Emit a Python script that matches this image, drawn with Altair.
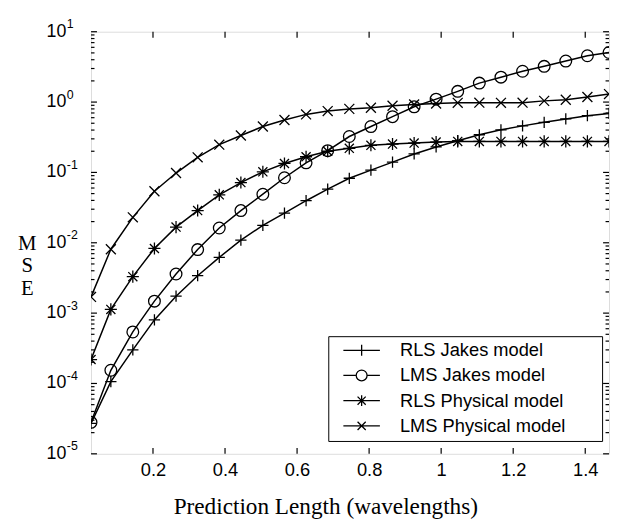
import altair as alt
import pandas as pd

# ---------------- data ----------------
x_vals = [0.028, 0.083, 0.144, 0.204, 0.264, 0.324, 0.384, 0.444, 0.505, 0.565,
          0.625, 0.685, 0.745, 0.805, 0.865, 0.925, 0.986, 1.046, 1.106, 1.166,
          1.226, 1.286, 1.346, 1.406, 1.466]
rls_jakes = [2.7e-5, 1.06e-4, 3.0e-4, 8.0e-4, 1.74e-3, 3.4e-3, 6.2e-3, 0.0109, 0.0177, 0.0263,
             0.0396, 0.058, 0.0826, 0.108, 0.14, 0.183, 0.23, 0.282, 0.343, 0.403,
             0.459, 0.515, 0.575, 0.64, 0.69]
lms_jakes = [2.8e-5, 1.54e-4, 5.4e-4, 1.48e-3, 3.6e-3, 8.0e-3, 0.0162, 0.0287, 0.049, 0.084,
             0.137, 0.204, 0.324, 0.449, 0.62, 0.857, 1.10, 1.42, 1.86, 2.26,
             2.74, 3.22, 3.83, 4.56, 5.07]
rls_phys = [2.19e-4, 1.13e-3, 3.3e-3, 8.3e-3, 0.0167, 0.0287, 0.048, 0.0718, 0.102, 0.134,
            0.167, 0.2, 0.22, 0.243, 0.253, 0.261, 0.27, 0.276, 0.276, 0.276,
            0.276, 0.276, 0.276, 0.276, 0.276]
lms_phys = [1.7e-3, 8.1e-3, 0.023, 0.054, 0.098, 0.164, 0.248, 0.335, 0.449, 0.557,
            0.668, 0.745, 0.80, 0.83, 0.886, 0.923, 0.953, 0.975, 0.98, 0.975,
            0.98, 1.04, 1.08, 1.18, 1.3]

series_names = ["RLS Jakes model", "LMS Jakes model", "RLS Physical model", "LMS Physical model"]
x_ticks = [0.2, 0.4, 0.6, 0.8, 1.0, 1.2, 1.4]
y_major = [1e1, 1e0, 1e-1, 1e-2, 1e-3, 1e-4, 1e-5]
y_exps = ["1", "0", "-1", "-2", "-3", "-4", "-5"]
minor_mult = [2, 3, 4, 5, 6, 7, 8, 9]
decades = [1e-5, 1e-4, 1e-3, 1e-2, 1e-1, 1e0]

# ---------------- tables ----------------
rows = []
for name, vals in zip(series_names, [rls_jakes, lms_jakes, rls_phys, lms_phys]):
    for xv, yv in zip(x_vals, vals):
        rows.append({"series": name, "x": xv, "mse": yv})
df = pd.DataFrame(rows)
df_xt = pd.DataFrame({"x": x_ticks})
df_ymaj = pd.DataFrame({"mse": y_major})
df_ymin = pd.DataFrame({"mse": [m * d for d in decades for m in minor_mult]})
df_ylab = pd.DataFrame({"mse": y_major, "base": ["10"] * len(y_major), "exp": y_exps})

# ---------------- styling ----------------
W, H = 524, 427
SANS = "Liberation Sans"
SERIF = "Liberation Serif"
xs = alt.Scale(domain=[0.028, 1.466], nice=False, zero=False)
ys = alt.Scale(type="log", domain=[1e-5, 10], nice=False)

plus_p = "M-1,0H1M0,-1V1"
circ_p = "M-1,0A1,1,0,1,0,1,0A1,1,0,1,0,-1,0"
ast_p = "M-1,0H1M0,-1V1M-0.75,-0.75L0.75,0.75M-0.75,0.75L0.75,-0.75"
x_p = "M-0.75,-0.75L0.75,0.75M-0.75,0.75L0.75,-0.75"
marker_paths = [plus_p, circ_p, ast_p, x_p]
marker_sizes = [130, 140, 150, 180]

L = 3.36
legend_paths = [
    f"M-{L},0H{L}M0,-1V1",
    f"M-{L},0H-1M1,0H{L}M-1,0A1,1,0,1,0,1,0A1,1,0,1,0,-1,0",
    f"M-{L},0H{L}M0,-1V1M-0.75,-0.75L0.75,0.75M-0.75,0.75L0.75,-0.75",
    f"M-{L},0H{L}M-0.75,-0.75L0.75,0.75M-0.75,0.75L0.75,-0.75",
]

x_axis = alt.Axis(values=x_ticks, format="~g", tickSize=0, domain=False, grid=False,
                  labelFont=SANS, labelFontSize=18.5, labelColor="black", labelPadding=7,
                  labelFlush=False,
                  title="Prediction Length (wavelengths)", titleFont=SERIF, titleFontSize=23.5,
                  titleFontWeight="normal", titleColor="black", titleX=237, titleY=60,
                  titleAlign="center", titleBaseline="alphabetic")
y_axis = alt.Axis(labels=False, ticks=False, domain=False, grid=False,
                  title=["M", "S", "E"], titleAngle=0, titleX=-65, titleY=214,
                  titleAlign="center", titleBaseline="middle", titleFont=SERIF,
                  titleFontSize=21, titleFontWeight="normal", titleColor="black",
                  titleLineHeight=23)

X = alt.X("x:Q", scale=xs, axis=x_axis)
Y = alt.Y("mse:Q", scale=ys, axis=y_axis)

lines = alt.Chart(df).mark_line(color="black", strokeWidth=1.5, clip=True).encode(
    x=X, y=Y, detail="series:N",
)

point_layers = []
for name, path, size in zip(series_names, marker_paths, marker_sizes):
    point_layers.append(
        alt.Chart(df).transform_filter(alt.datum.series == name)
        .mark_point(shape=path, size=size, filled=False, color="black",
                    strokeWidth=1.3, opacity=1, clip=True)
        .encode(x=X, y=Y)
    )

legend_layer = alt.Chart(df).transform_filter("datum.x < 0").mark_point(
    filled=False, color="black", strokeWidth=1.3, opacity=1
).encode(
    x=X, y=Y,
    shape=alt.Shape("series:N",
                    scale=alt.Scale(domain=series_names, range=legend_paths),
                    legend=alt.Legend(title="MM", titleOrient="right", titleOpacity=0,
                                      titleFontSize=18, titlePadding=2,
                                      orient="none", legendX=240, legendY=308,
                                      padding=5, rowPadding=6.5, symbolOffset=19.5,
                                      labelOffset=29.5, labelFont=SANS, labelFontSize=18.5,
                                      labelLimit=400,
                                      labelColor="black", strokeColor="black",
                                      fillColor="white", symbolSize=121,
                                      symbolStrokeWidth=1.3, symbolStrokeColor="black")),
)

# inward ticks
tick_style = dict(color="black", strokeWidth=1.2)
xt_bottom = alt.Chart(df_xt).mark_rule(**tick_style).encode(
    x=X, y=alt.value(H), y2=alt.value(H - 6))
xt_top = alt.Chart(df_xt).mark_rule(**tick_style).encode(
    x=X, y=alt.value(0), y2=alt.value(6))
ymaj_left = alt.Chart(df_ymaj).mark_rule(**tick_style).encode(
    y=Y, x=alt.value(0), x2=alt.value(6))
ymaj_right = alt.Chart(df_ymaj).mark_rule(**tick_style).encode(
    y=Y, x=alt.value(W), x2=alt.value(W - 6))
ymin_left = alt.Chart(df_ymin).mark_rule(**tick_style).encode(
    y=Y, x=alt.value(0), x2=alt.value(3.5))
ymin_right = alt.Chart(df_ymin).mark_rule(**tick_style).encode(
    y=Y, x=alt.value(W), x2=alt.value(W - 3.5))

# y tick labels as 10 with superscript exponent
ylab_base = alt.Chart(df_ylab).mark_text(align="right", baseline="alphabetic", font=SANS,
                                         fontSize=18, dy=5, color="black").encode(
    y=Y, x=alt.value(-25), text="base:N")
ylab_exp = alt.Chart(df_ylab).mark_text(align="left", baseline="alphabetic", font=SANS,
                                        fontSize=12.5, dy=-3.5, color="black").encode(
    y=Y, x=alt.value(-24.5), text="exp:N")

chart = alt.layer(
    lines, *point_layers, legend_layer,
    xt_bottom, xt_top, ymaj_left, ymaj_right, ymin_left, ymin_right,
    ylab_base, ylab_exp,
).properties(
    width=W, height=H,
    autosize=alt.AutoSizeParams(type="none"),
    padding={"left": 84, "top": 21, "right": 1, "bottom": 68},
    background="white",
).configure_view(stroke="black", strokeWidth=1.3).configure(font=SANS)

chart.save("out.html", embed_options={"renderer": "svg", "actions": False})
